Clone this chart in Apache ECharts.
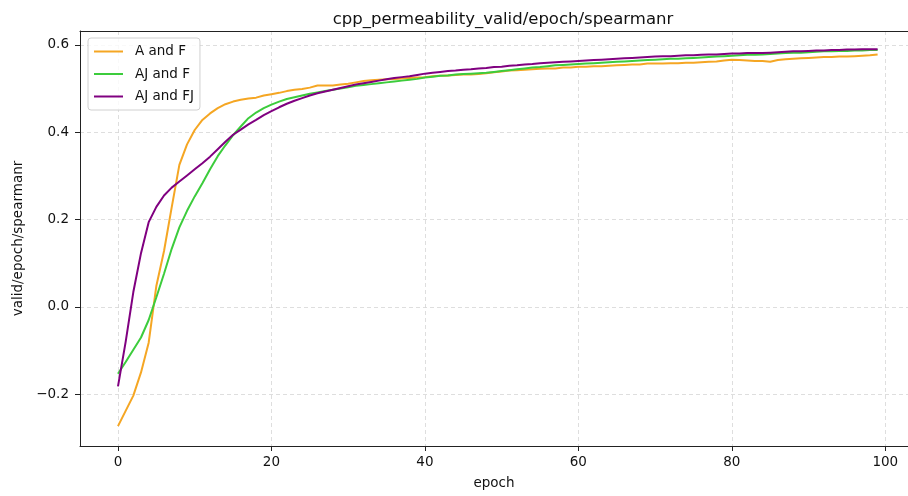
<!DOCTYPE html>
<html>
<head>
<meta charset="utf-8">
<title>cpp_permeability_valid/epoch/spearmanr</title>
<script src="https://cdn.jsdelivr.net/npm/echarts@6.0.0/dist/echarts.min.js"></script>
<style>
  html, body { margin: 0; padding: 0; background: #fff; }
  #chart { width: 908px; height: 496px; }
</style>
</head>
<body>
<div id="chart"></div>
<script>
// values, one per epoch
var epochs = Array.from({ length: 100 }, function (_, i) { return i; });

var aAndF = [
  -0.273, -0.238, -0.203, -0.150, -0.082, 0.048, 0.128, 0.228, 0.325, 0.372,
  0.405, 0.428, 0.443, 0.455, 0.464, 0.470, 0.474, 0.477, 0.479, 0.484,
  0.487, 0.490, 0.494, 0.497, 0.499, 0.502, 0.507, 0.507, 0.507, 0.509,
  0.511, 0.514, 0.517, 0.519, 0.520, 0.521, 0.522, 0.523, 0.524, 0.525,
  0.526, 0.528, 0.529, 0.530, 0.531, 0.532, 0.532, 0.533, 0.535, 0.537,
  0.539, 0.541, 0.542, 0.543, 0.544, 0.545, 0.546, 0.546, 0.548, 0.548,
  0.550, 0.550, 0.551, 0.551, 0.552, 0.553, 0.554, 0.555, 0.555, 0.557,
  0.557, 0.557, 0.558, 0.558, 0.559, 0.559, 0.560, 0.561, 0.562, 0.564,
  0.566, 0.565, 0.564, 0.563, 0.563, 0.561, 0.565, 0.567, 0.568, 0.569,
  0.570, 0.571, 0.572, 0.572, 0.573, 0.573, 0.574, 0.575, 0.576, 0.578
];

var ajAndF = [
  -0.153, -0.126, -0.098, -0.070, -0.030, 0.022, 0.076, 0.133, 0.182, 0.220,
  0.253, 0.283, 0.315, 0.345, 0.370, 0.393, 0.413, 0.432, 0.445, 0.455,
  0.463, 0.470, 0.476, 0.480, 0.484, 0.488, 0.491, 0.494, 0.497, 0.500,
  0.503, 0.506, 0.508, 0.510, 0.512, 0.514, 0.516, 0.518, 0.520, 0.522,
  0.525, 0.527, 0.529, 0.530, 0.532, 0.533, 0.534, 0.535, 0.536, 0.538,
  0.540, 0.542, 0.544, 0.546, 0.548, 0.549, 0.551, 0.553, 0.554, 0.555,
  0.556, 0.557, 0.558, 0.559, 0.560, 0.561, 0.562, 0.563, 0.564, 0.565,
  0.566, 0.567, 0.568, 0.568, 0.569, 0.570, 0.571, 0.572, 0.573, 0.574,
  0.575, 0.576, 0.577, 0.577, 0.578, 0.579, 0.580, 0.581, 0.582, 0.582,
  0.583, 0.584, 0.585, 0.585, 0.586, 0.586, 0.587, 0.587, 0.588, 0.588
];

var ajAndFJ = [
  -0.182, -0.080, 0.034, 0.123, 0.194, 0.229, 0.255, 0.273, 0.287, 0.301,
  0.315, 0.329, 0.344, 0.361, 0.378, 0.394, 0.406, 0.418, 0.428, 0.439,
  0.448, 0.457, 0.465, 0.472, 0.478, 0.484, 0.489, 0.493, 0.497, 0.501,
  0.505, 0.509, 0.512, 0.515, 0.518, 0.521, 0.524, 0.526, 0.528, 0.531,
  0.534, 0.536, 0.538, 0.540, 0.541, 0.543, 0.544, 0.546, 0.547, 0.549,
  0.550, 0.552, 0.553, 0.555, 0.556, 0.558, 0.559, 0.560, 0.561, 0.562,
  0.563, 0.564, 0.565, 0.566, 0.567, 0.568, 0.569, 0.570, 0.571, 0.572,
  0.573, 0.574, 0.574, 0.575, 0.576, 0.576, 0.577, 0.578, 0.578, 0.579,
  0.580, 0.580, 0.581, 0.581, 0.581, 0.582, 0.583, 0.584, 0.585, 0.585,
  0.586, 0.587, 0.587, 0.588, 0.588, 0.589, 0.589, 0.590, 0.590, 0.590
];

var xTicks = [0, 20, 40, 60, 80, 100];
var yTicks = [-0.2, 0.0, 0.2, 0.4, 0.6];

var seriesNames = ['A and F', 'AJ and F', 'AJ and FJ'];
var seriesColors = ['#f5a623', '#3ccc3c', '#800080'];
var seriesValues = [aAndF, ajAndF, ajAndFJ];

var FONT = 'DejaVu Sans';
var X_MIN = -4.95, X_MAX = 102.96;

function pairs(values) {
  return epochs.map(function (e, i) { return [e, values[i]]; });
}

var myChart = echarts.init(document.getElementById('chart'), null, { renderer: 'canvas' });

var option = {
  animation: false,
  backgroundColor: '#fff',
  textStyle: { fontFamily: FONT },
  title: {
    text: 'cpp_permeability_valid/epoch/spearmanr',
    left: 498,
    top: 6,
    textAlign: 'center',
    textStyle: { fontFamily: FONT, fontSize: 16.5, fontWeight: 'normal', color: '#111' }
  },
  grid: { left: 80, right: 0, top: 31, bottom: 50 },
  legend: {
    orient: 'vertical',
    left: 88, top: 38,
    padding: [6, 6, 6, 6],
    itemGap: 7.5,
    itemWidth: 29, itemHeight: 2,
    icon: 'rect',
    backgroundColor: 'rgba(255,255,255,0.8)',
    borderColor: '#d0d0d0', borderWidth: 1, borderRadius: 3,
    textStyle: { fontFamily: FONT, fontSize: 13.5, color: '#111', lineHeight: 15, padding: [0, 0, 0, 7] },
    data: seriesNames
  },
  xAxis: [{
    type: 'value',
    min: X_MIN, max: X_MAX,
    name: 'epoch',
    nameLocation: 'middle',
    nameGap: 30,
    nameTextStyle: { fontFamily: FONT, fontSize: 13.5, color: '#111' },
    axisLine: { show: true, onZero: false, lineStyle: { color: '#222', width: 1 } },
    axisTick: { show: true, inside: false, length: 5, customValues: xTicks, lineStyle: { color: '#222' } },
    axisLabel: { customValues: xTicks, margin: 9, fontFamily: FONT, fontSize: 13.5, color: '#111' },
    splitLine: { show: true, lineStyle: { color: '#d6d6d6', type: [4, 3], width: 0.8 } }
  }, {
    // top spine only
    type: 'value',
    position: 'top',
    min: X_MIN, max: X_MAX,
    axisLine: { show: true, onZero: false, lineStyle: { color: '#222', width: 1 } },
    axisTick: { show: false },
    axisLabel: { show: false },
    splitLine: { show: false }
  }],
  yAxis: {
    type: 'value',
    min: -0.3184, max: 0.6316,
    name: 'valid/epoch/spearmanr',
    nameLocation: 'middle',
    nameGap: 55,
    nameRotate: 90,
    nameTextStyle: { fontFamily: FONT, fontSize: 13.5, color: '#111' },
    axisLine: { show: true, onZero: false, lineStyle: { color: '#222', width: 1 } },
    axisTick: { show: true, inside: false, length: 5, customValues: yTicks, lineStyle: { color: '#222' } },
    axisLabel: {
      customValues: yTicks, margin: 11, fontFamily: FONT, fontSize: 13.5, color: '#111',
      formatter: function (v) { return v.toFixed(1).replace('-', '\u2212'); }
    },
    splitLine: { show: true, lineStyle: { color: '#d6d6d6', type: [4, 3], width: 0.8 } }
  },
  series: seriesNames.map(function (name, k) {
    return {
      name: name,
      type: 'line',
      xAxisIndex: 0,
      data: pairs(seriesValues[k]),
      showSymbol: false,
      symbol: 'none',
      color: seriesColors[k],
      lineStyle: { width: 2, color: seriesColors[k] },
      z: 2 + k
    };
  })
};

myChart.setOption(option);
</script>
</body>
</html>
